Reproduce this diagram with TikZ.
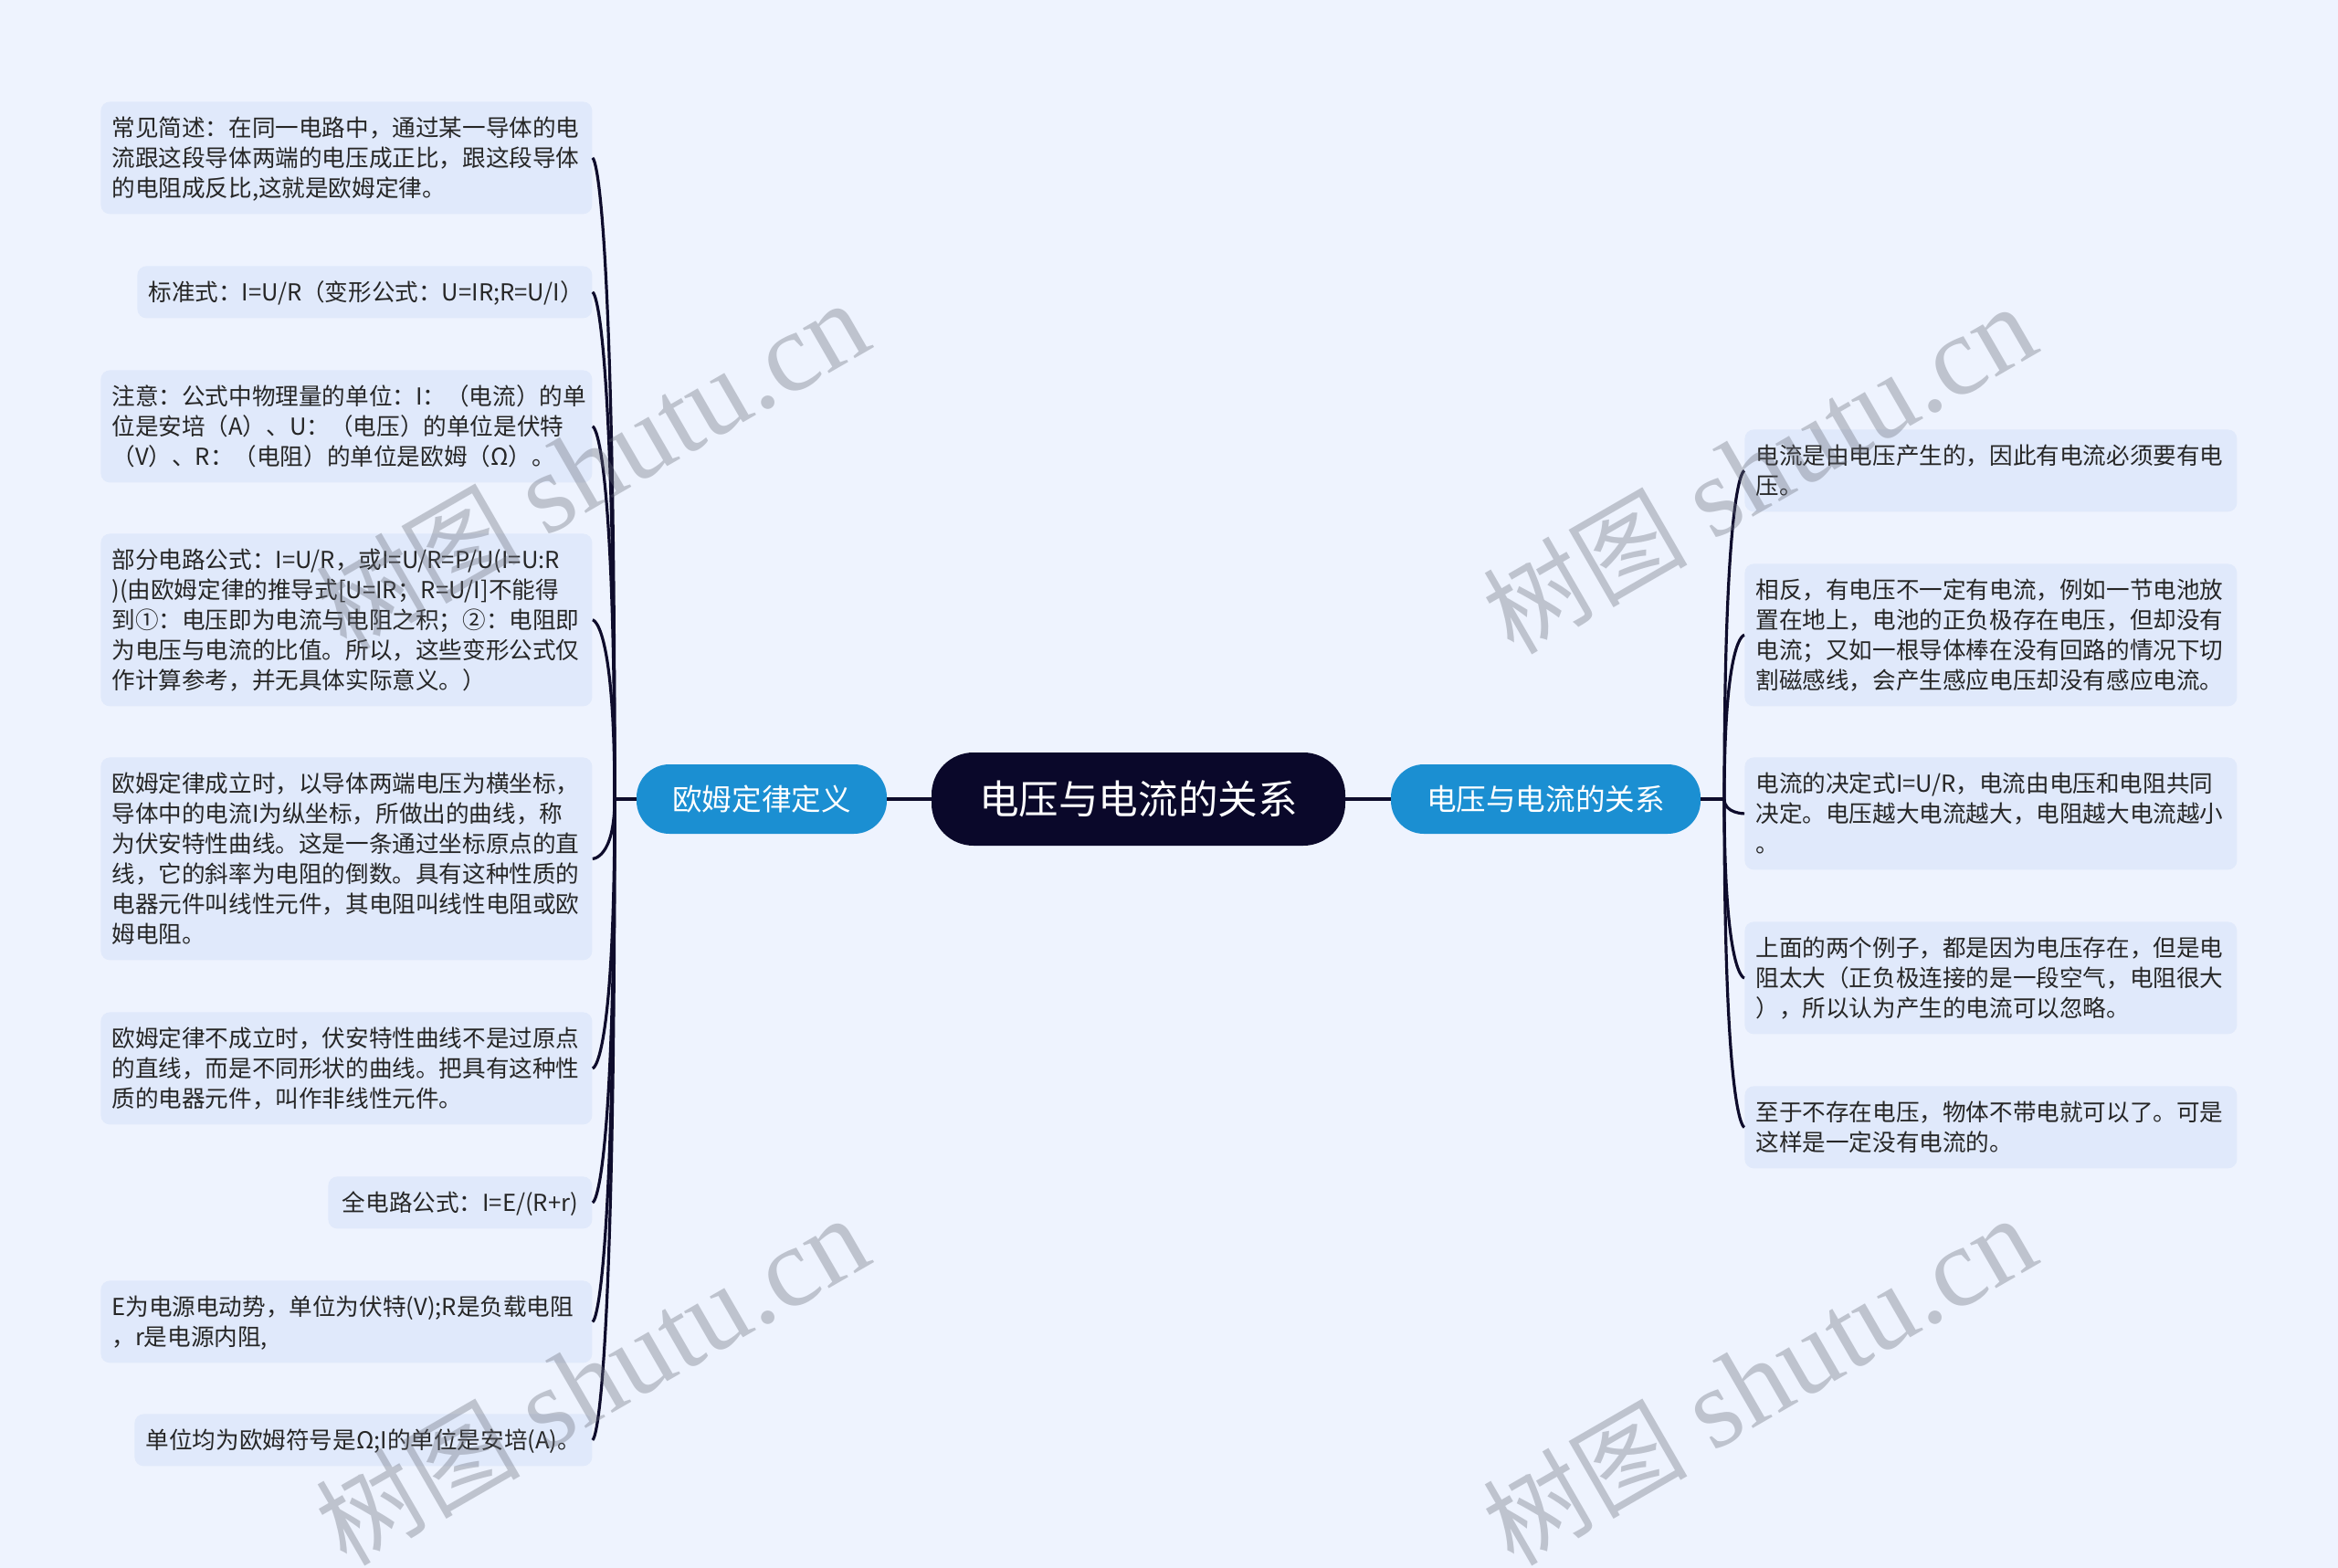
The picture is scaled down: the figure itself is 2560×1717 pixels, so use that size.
\documentclass[tikz,border=0pt]{standalone}
\usepackage{fontspec}
\setmainfont{Noto Sans CJK SC}
\newfontfamily\wmserif{Liberation Serif}
\newfontfamily\wmcjk{Noto Sans CJK SC}
\definecolor{bgc}{RGB}{238,243,254}
\definecolor{leafbg}{RGB}{224,233,251}
\definecolor{rootc}{RGB}{10,8,42}
\definecolor{branchc}{RGB}{27,143,210}
\definecolor{linec}{RGB}{14,12,44}
\definecolor{txtc}{RGB}{38,38,38}
\definecolor{wmc}{RGB}{105,110,122}
\newcommand{\tstrut}{\rule{0pt}{13pt}}
\newcommand{\bstrut}{\rule[-3.5pt]{0pt}{3.5pt}}
\newcommand{\wmtext}{{\fontsize{56pt}{60pt}\wmcjk 树图}\hspace{14pt}{\fontsize{62pt}{66pt}\wmserif shutu.cn}}
\begin{document}
\begin{tikzpicture}[x=0.5pt,y=-0.5pt,
  leaf/.style={draw=none, fill=leafbg, rounded corners=5pt, anchor=north west,
    inner xsep=6pt, inner ysep=6pt, align=left, text=txtc,
    font=\fontsize{12.8pt}{16.5pt}\selectfont},
  leafc/.style={leaf, align=center},
  rootnode/.style={fill=rootc, text=white, rounded corners=23pt, minimum width=226.5pt,
    minimum height=51pt, inner sep=0pt, font=\fontsize{21.8pt}{26pt}\selectfont},
  branchnode/.style={fill=branchc, text=white, rounded corners=18pt,
    minimum height=38pt, inner sep=0pt, font=\fontsize{16.3pt}{20pt}\selectfont},
  conn/.style={draw=linec, line width=1.6pt},
  wmark/.style={text=wmc, text opacity=0.36, rotate=30, inner sep=0pt}
]
\useasboundingbox (0,0) rectangle (2560,1717);
\fill[bgc] (0,0) rectangle (2560,1717);

% central and branch nodes
\node[rootnode] (root) at (1246.5,875) {电压与电流的关系};
\node[branchnode, minimum width=137pt] (lb) at (834,875) {欧姆定律定义};
\node[branchnode, minimum width=169.5pt] (rb) at (1692.5,875) {电压与电流的关系};

% left leaves
\node[leaf, text width=257pt] (L1) at (110,111) {\tstrut 常见简述：在同一电路中，通过某一导体的电\\流跟这段导体两端的电压成正比，跟这段导体\\的电阻成反比,这就是欧姆定律。\bstrut};
\node[leafc, text width=237pt] (L2) at (150,291) {\tstrut 标准式：I=U/R（变形公式：U=IR;R=U/I）\bstrut};
\node[leaf, text width=257pt] (L3) at (110,405) {\tstrut 注意：公式中物理量的单位：I：（电流）的单\\位是安培（A）、U：（电压）的单位是伏特\\（V）、R：（电阻）的单位是欧姆（Ω）。\bstrut};
\node[leaf, text width=257pt] (L4) at (110,584) {\tstrut 部分电路公式：I=U/R，或I=U/R=P/U(I=U:R\\)(由欧姆定律的推导式[U=IR；R=U/I]不能得\\到①：电压即为电流与电阻之积；②：电阻即\\为电压与电流的比值。所以，这些变形公式仅\\作计算参考，并无具体实际意义。）\bstrut};
\node[leaf, text width=257pt] (L5) at (110,829) {\tstrut 欧姆定律成立时，以导体两端电压为横坐标，\\导体中的电流I为纵坐标，所做出的曲线，称\\为伏安特性曲线。这是一条通过坐标原点的直\\线，它的斜率为电阻的倒数。具有这种性质的\\电器元件叫线性元件，其电阻叫线性电阻或欧\\姆电阻。\bstrut};
\node[leaf, text width=257pt] (L6) at (110,1108) {\tstrut 欧姆定律不成立时，伏安特性曲线不是过原点\\的直线，而是不同形状的曲线。把具有这种性\\质的电器元件，叫作非线性元件。\bstrut};
\node[leafc, text width=132.5pt] (L7) at (359,1288) {\tstrut 全电路公式：I=E/(R+r)\bstrut};
\node[leaf, text width=257pt] (L8) at (110,1402) {\tstrut E为电源电动势，单位为伏特(V);R是负载电阻\\，r是电源内阻,\bstrut};
\node[leafc, text width=238.5pt] (L9) at (147,1548) {\tstrut 单位均为欧姆符号是Ω;I的单位是安培(A)。\bstrut};

% right leaves
\node[leaf, text width=257.5pt] (R1) at (1910,470) {\tstrut 电流是由电压产生的，因此有电流必须要有电\\压。\bstrut};
\node[leaf, text width=257.5pt] (R2) at (1910,617) {\tstrut 相反，有电压不一定有电流，例如一节电池放\\置在地上，电池的正负极存在电压，但却没有\\电流；又如一根导体棒在没有回路的情况下切\\割磁感线，会产生感应电压却没有感应电流。\bstrut};
\node[leaf, text width=257.5pt] (R3) at (1910,829) {\tstrut 电流的决定式I=U/R，电流由电压和电阻共同\\决定。电压越大电流越大，电阻越大电流越小\\。\bstrut};
\node[leaf, text width=257.5pt] (R4) at (1910,1009) {\tstrut 上面的两个例子，都是因为电压存在，但是电\\阻太大（正负极连接的是一段空气，电阻很大\\），所以认为产生的电流可以忽略。\bstrut};
\node[leaf, text width=257.5pt] (R5) at (1910,1189) {\tstrut 至于不存在电压，物体不带电就可以了。可是\\这样是一定没有电流的。\bstrut};

% connectors
\coordinate (ls) at (673,875);
\coordinate (rs) at (1888,875);
\draw[conn] (root.west) -- (lb.east);
\draw[conn] (root.east) -- (rb.west);
\draw[conn] (lb.west) -- (ls);
\draw[conn] (rb.east) -- (rs);
\foreach \n in {L1,L2,L3,L4,L5,L6,L7,L8,L9}
  \draw[conn] (ls) .. controls (ls |- \n.east) and (\n.east) .. (\n.east);
\foreach \n in {R1,R2,R3,R4,R5}
  \draw[conn] (rs) .. controls (rs |- \n.west) and (\n.west) .. (\n.west);

% watermarks
\node[wmark] (w1) at (648,510) {\wmtext};
\node[wmark] (w2) at (1926,514) {\wmtext};
\node[wmark] (w3) at (648,1512) {\wmtext};
\node[wmark] (w4) at (1926,1512) {\wmtext};
\end{tikzpicture}
\end{document}
